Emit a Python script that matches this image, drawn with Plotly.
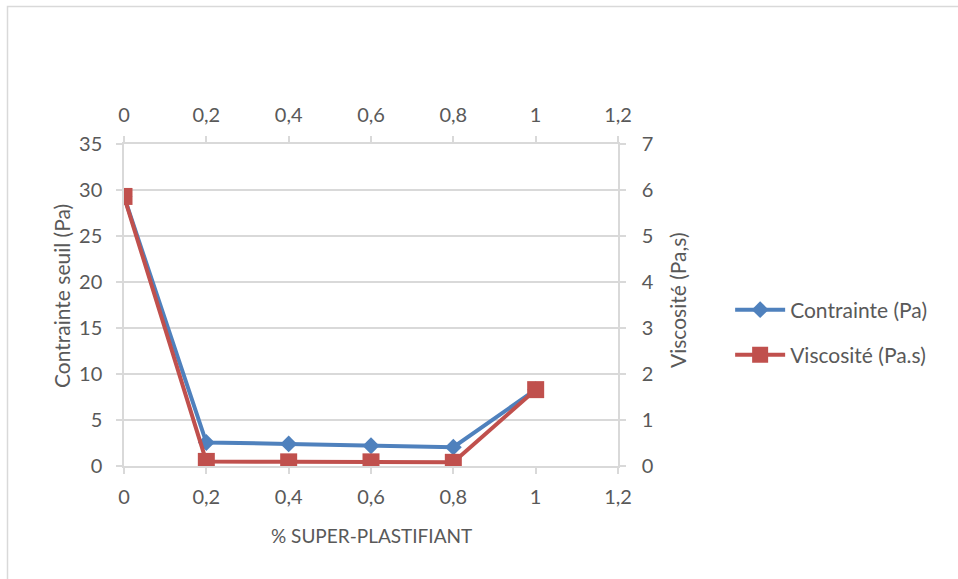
import plotly.graph_objects as go

# Superplasticizer dosage (%)
dosage = [0, 0.2, 0.4, 0.6, 0.8, 1]
# Yield stress (Pa), left axis
contrainte = [29.3, 2.55, 2.4, 2.2, 2.05, 8.3]
# Viscosity (Pa.s), right axis
viscosite = [5.86, 0.1, 0.09, 0.09, 0.08, 1.66]

x_ticks = [0, 0.2, 0.4, 0.6, 0.8, 1, 1.2]
x_labels = ["0", "0,2", "0,4", "0,6", "0,8", "1", "1,2"]

FONT = "Lato"
TXT = "#595959"
GRID = "#d9d9d9"

fig = go.Figure()

fig.add_trace(go.Scatter(
    x=dosage, y=contrainte, name="Contrainte (Pa)",
    mode="lines+markers", xaxis="x", yaxis="y",
    line=dict(color="#4F81BD", width=4),
    marker=dict(symbol="diamond", size=13, color="#4F81BD"),
    legend="legend", showlegend=True,
))
fig.add_trace(go.Scatter(
    x=dosage, y=viscosite, name="Viscosité (Pa.s)",
    mode="lines+markers", xaxis="x2", yaxis="y2",
    line=dict(color="#C0504D", width=4),
    marker=dict(symbol="square", size=17, color="#C0504D"),
    legend="legend2", showlegend=True,
))

tickfont = dict(family=FONT, size=20, color=TXT)
axis_common = dict(
    zeroline=False, showline=True, linecolor=GRID, linewidth=1.5,
    ticks="outside", ticklen=6, tickcolor=GRID, tickwidth=1.5,
    tickfont=tickfont,
)

fig.update_layout(
    width=958, height=579,
    margin=dict(l=124, r=340, t=144, b=113),
    paper_bgcolor="white", plot_bgcolor="white",
    font=dict(family=FONT, color=TXT),
    showlegend=True,
    xaxis=dict(
        range=[0, 1.2], tickvals=x_ticks, ticktext=x_labels,
        showgrid=False, anchor="y", ticklabelstandoff=6, **axis_common,
    ),
    xaxis2=dict(
        range=[0, 1.2], tickvals=x_ticks, ticktext=x_labels,
        overlaying="x", side="top", anchor="y2",
        showgrid=False, ticklabelstandoff=6, **axis_common,
    ),
    yaxis=dict(
        range=[0, 35], dtick=5, tick0=0,
        showgrid=True, gridcolor=GRID, gridwidth=1.5,
        anchor="x", ticklabelstandoff=10, **axis_common,
    ),
    yaxis2=dict(
        range=[0, 7], dtick=1, tick0=0,
        overlaying="y", side="right", anchor="x2",
        showgrid=False, ticklabelstandoff=12, **axis_common,
    ),
    legend=dict(
        x=1.227, y=(466 - 310) / 322, xanchor="left", yanchor="middle",
        itemwidth=50,
        font=dict(family=FONT, size=21, color=TXT), bgcolor="rgba(0,0,0,0)",
    ),
    legend2=dict(
        x=1.227, y=(466 - 355) / 322, xanchor="left", yanchor="middle",
        itemwidth=50,
        font=dict(family=FONT, size=21, color=TXT), bgcolor="rgba(0,0,0,0)",
    ),
    annotations=[
        dict(text="Contrainte seuil (Pa)", xref="paper", yref="paper",
             x=(61 - 124) / 494, y=(466 - 296) / 322, textangle=-90, showarrow=False,
             xanchor="center", yanchor="middle",
             font=dict(family=FONT, size=21, color=TXT)),
        dict(text="Viscosité (Pa,s)", xref="paper", yref="paper",
             x=(677 - 124) / 494, y=(466 - 300) / 322, textangle=-90, showarrow=False,
             xanchor="center", yanchor="middle",
             font=dict(family=FONT, size=21, color=TXT)),
        dict(text="% SUPER-PLASTIFIANT", xref="paper", yref="paper",
             x=(371 - 124) / 494, y=(466 - 535) / 322, showarrow=False,
             xanchor="center", yanchor="middle",
             font=dict(family=FONT, size=19, color=TXT)),
    ],
    shapes=[
        # outer chart frame
        dict(type="rect", xref="paper", yref="paper",
             x0=(7.5 - 124) / 494, x1=(975 - 124) / 494,
             y0=(466 - 600) / 322, y1=(466 - 6.5) / 322,
             line=dict(color=GRID, width=1.5), layer="below"),
    ],
)

fig.write_html("out.html")
